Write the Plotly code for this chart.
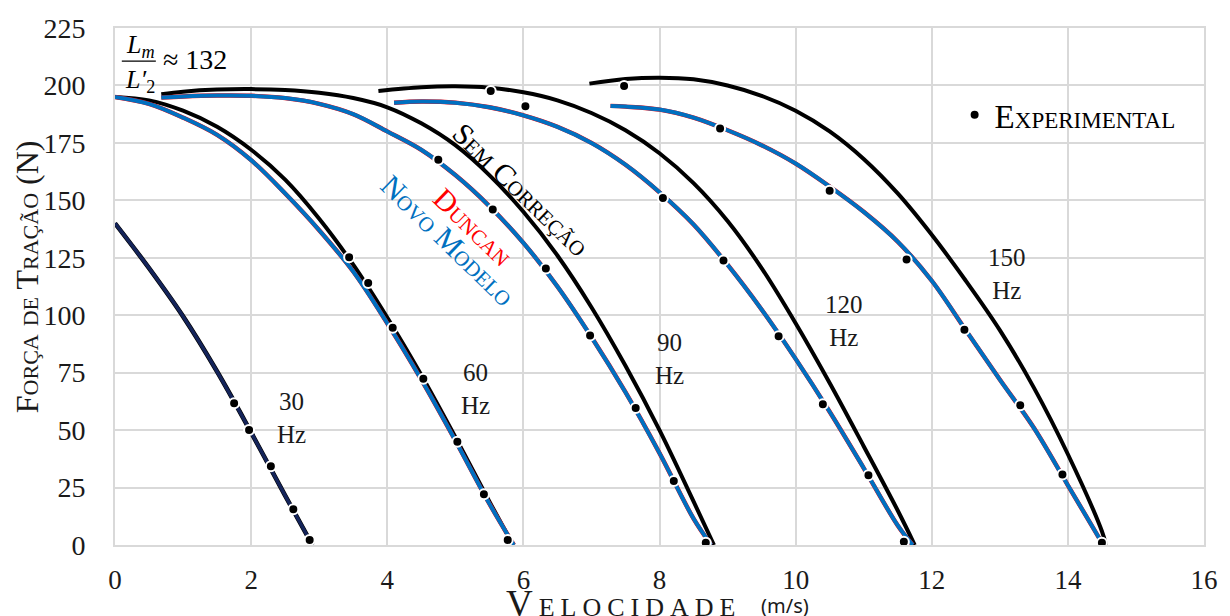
import plotly.graph_objects as go

# ---------------- Dados ----------------
# 30 Hz: os três modelos praticamente coincidem
v30 = [0, 0.5, 1.0, 1.5, 2.0, 2.5, 2.9]
f30 = [140, 120.5, 99.5, 75.5, 49, 21.5, 0]

# 60 Hz
v60_sc = [0, 0.5, 1, 1.5, 2, 2.5, 3, 3.5, 4, 4.5, 5, 5.5, 5.85]
f60_sc = [195, 193.5, 189, 182, 172, 159, 142, 122, 99, 74, 47, 19, 0]
v60_nm = [0, 0.5, 1, 1.5, 2, 2.5, 3, 3.5, 4, 4.5, 5, 5.5, 5.86]
f60_nm = [195, 192, 186, 178.5, 167.5, 153, 137, 119, 96.5, 72, 45.5, 18, 0]

# 90 Hz
v90_sc = [0.68, 1, 1.5, 2, 2.5, 3, 3.5, 4, 4.5, 5, 5.5, 6, 6.5, 7, 7.5, 8, 8.5, 8.8]
f90_sc = [196.2, 197.3, 198.2, 198.4, 198, 196.8, 194.5, 190.5, 183.5, 174, 161, 145, 126, 103.5, 78, 50, 19, 0]
v90_nm = [0.68, 1, 1.5, 2, 2.5, 3, 3.5, 4, 4.5, 5, 5.5, 6, 6.5, 7, 7.5, 8, 8.5, 8.76]
f90_nm = [194.7, 195.2, 195.6, 195.5, 194.5, 192, 187.5, 180, 172, 161, 147.5, 131.5, 112.5, 90.5, 66.5, 40, 11.5, 0]

# 120 Hz
v120_sc = [3.87, 4.5, 5, 5.5, 6, 6.5, 7, 7.5, 8, 8.5, 9, 9.5, 10, 10.5, 11, 11.5, 11.75]
f120_sc = [197.6, 199.2, 199.6, 199, 197, 193.5, 188, 180.5, 170.5, 157.5, 141, 120.5, 96.5, 70.5, 43, 15, 0]
v120_nm = [4.1, 4.5, 5, 5.5, 6, 6.5, 7, 7.5, 8, 8.5, 9, 9.5, 10, 10.5, 11, 11.5, 11.72]
f120_nm = [192.5, 193, 192.5, 190.5, 187, 182, 175, 165.5, 153.5, 139.5, 122, 102.5, 81, 58, 33.5, 8.5, 0]

# 150 Hz
v150_sc = [6.97, 7.5, 8, 8.5, 9, 9.5, 10, 10.5, 11, 11.5, 12, 12.5, 13, 13.5, 14, 14.5, 14.56]
f150_sc = [200.8, 202.8, 203.4, 202.7, 200, 195.5, 189, 180, 168, 153, 135, 115, 93.5, 68.5, 39.5, 6, 0]
v150_nm = [7.28, 7.5, 8, 8.5, 9, 9.5, 10, 10.5, 11, 11.5, 12, 12.5, 13, 13.5, 14, 14.52]
f150_nm = [191.1, 190.8, 189.5, 186, 180.5, 174, 166, 156, 145, 132, 115, 93.5, 72, 51, 26, 0]

# Ensaios experimentais
exp_v = [1.75, 1.97, 2.29, 2.62, 2.86,
         3.44, 3.72, 4.08, 4.53, 5.03, 5.42, 5.77,
         4.75, 5.55, 6.33, 6.98, 7.65, 8.21, 8.68,
         5.52, 6.03, 8.05, 8.94, 9.75, 10.4, 11.07, 11.59,
         7.48, 8.89, 10.5, 11.63, 12.48, 13.3, 13.92, 14.5]
exp_f = [61.7, 50, 34.3, 15.6, 2.2,
         125.2, 114.0, 94.5, 72.4, 44.9, 22.1, 2.2,
         167.7, 146, 120.3, 91.2, 59.6, 27.9, 1.0,
         197.6, 190.9, 151, 123.8, 90.9, 61.3, 30.4, 1.4,
         199.8, 181.3, 154.2, 124.2, 93.7, 60.8, 30.7, 1.0]

freq_labels = ["30<br>Hz", "60<br>Hz", "90<br>Hz", "120<br>Hz", "150<br>Hz"]
freq_pos_v = [2.59, 5.29, 8.14, 10.71, 13.1]
freq_pos_f = [55.3, 67.9, 80.9, 97.5, 118.1]

x_ticks = [0, 2, 4, 6, 8, 10, 12, 14, 16]
y_ticks = [0, 25, 50, 75, 100, 125, 150, 175, 200, 225]

# ---------------- Estilo ----------------
SERIF = "Liberation Serif"
BLACK = "#000000"
TXT = "#1a1a1a"
BLUE = "#0070C0"
RED = "#FF0000"
NAVY = "#14245a"
GRID = "#d9d9d9"

fig = go.Figure()

def linha(x, y, cor, largura):
    fig.add_trace(go.Scatter(x=x, y=y, mode="lines", showlegend=False,
                             hoverinfo="skip",
                             line=dict(color=cor, width=largura, shape="spline",
                                       smoothing=1)))

# 30 Hz
linha(v30, f30, BLACK, 4.6)
linha(v30, f30, NAVY, 3.4)

# Demais frequências: Sem correção, Duncan e Novo modelo
for vs, fs, vn, fn in [(v60_sc, f60_sc, v60_nm, f60_nm),
                       (v90_sc, f90_sc, v90_nm, f90_nm),
                       (v120_sc, f120_sc, v120_nm, f120_nm),
                       (v150_sc, f150_sc, v150_nm, f150_nm)]:
    linha(vs, fs, BLACK, 4)
    linha(vn, fn, RED, 4.4)
    linha(vn, fn, BLUE, 4)

fig.add_trace(go.Scatter(x=exp_v, y=exp_f, mode="markers", name="Experimental",
                         marker=dict(color=BLACK, size=10,
                                     line=dict(color="white", width=2))))

def nota(**kw):
    base = dict(showarrow=False, xanchor="center", yanchor="middle")
    base.update(kw)
    return base

ann = []
for t, xv, yv in zip(freq_labels, freq_pos_v, freq_pos_f):
    ann.append(nota(x=xv, y=yv, xref="x", yref="y", text=t,
                    font=dict(family=SERIF, size=25, color=TXT)))

# Rótulos dos modelos, ao longo das curvas
ann.append(nota(x=5.97, y=154.7, xref="x", yref="y", text="Sem Correção", textangle=44,
                font=dict(family=SERIF, size=30, color=BLACK, variant="small-caps")))
ann.append(nota(x=5.26, y=138.5, xref="x", yref="y", text="Duncan", textangle=44,
                font=dict(family=SERIF, size=30, color=RED, variant="small-caps")))
ann.append(nota(x=4.9, y=132.7, xref="x", yref="y", text="Novo Modelo", textangle=44,
                font=dict(family=SERIF, size=30, color=BLUE, variant="small-caps")))

# Relação Lm / L'2
ann.append(nota(x=0.37, y=217, xref="x", yref="y", text="<i>L</i><sub><i>m</i></sub>",
                font=dict(family=SERIF, size=26, color=BLACK)))
ann.append(nota(x=0.37, y=202, xref="x", yref="y", text="<i>L′</i><sub>2</sub>",
                font=dict(family=SERIF, size=26, color=BLACK)))
ann.append(nota(x=1.17, y=211.5, xref="x", yref="y", text="≈ 132",
                font=dict(family=SERIF, size=28, color=BLACK)))

# Títulos dos eixos
ann.append(nota(x=0, y=0.518, xref="paper", yref="paper", xshift=-88,
                text="Força de Tração (N)", textangle=-90,
                font=dict(family=SERIF, size=32, color=TXT, variant="small-caps")))
ann.append(nota(x=0.467, y=-0.114, xref="paper", yref="paper",
                text='<span style="letter-spacing:6px">Velocidade</span>',
                font=dict(family=SERIF, size=37, color=TXT, variant="small-caps")))
ann.append(nota(x=0.615, y=-0.117, xref="paper", yref="paper",
                text="(m/s)", font=dict(family="Noto Sans", size=20, color=TXT)))

fig.update_layout(
    width=1230, height=616,
    margin=dict(l=115, r=20, t=28, b=71),
    paper_bgcolor="white", plot_bgcolor="white",
    font=dict(family=SERIF, color=TXT),
    showlegend=True,
    legend=dict(x=0.771, y=0.832, xanchor="left", yanchor="middle",
                bgcolor="rgba(0,0,0,0)",
                font=dict(family=SERIF, size=33, color=BLACK, variant="small-caps")),
    annotations=ann,
    shapes=[dict(type="line", xref="x", yref="y", x0=0.1, x1=0.6, y0=210.6, y1=210.6,
                 line=dict(color=BLACK, width=1.3))],
)
fig.update_xaxes(range=[0, 16], tickvals=x_ticks, showgrid=True, gridcolor=GRID,
                 gridwidth=2, zeroline=False, showline=True, linecolor=GRID,
                 linewidth=2, mirror=True, ticks="", ticklabelstandoff=10,
                 tickfont=dict(family=SERIF, size=27, color=TXT))
fig.update_yaxes(range=[0, 225], tickvals=y_ticks, showgrid=True, gridcolor=GRID,
                 gridwidth=2, zeroline=False, showline=True, linecolor=GRID,
                 linewidth=2, mirror=True, ticks="", ticklabelstandoff=22,
                 tickfont=dict(family=SERIF, size=28, color=TXT))

fig.write_html("out.html")
